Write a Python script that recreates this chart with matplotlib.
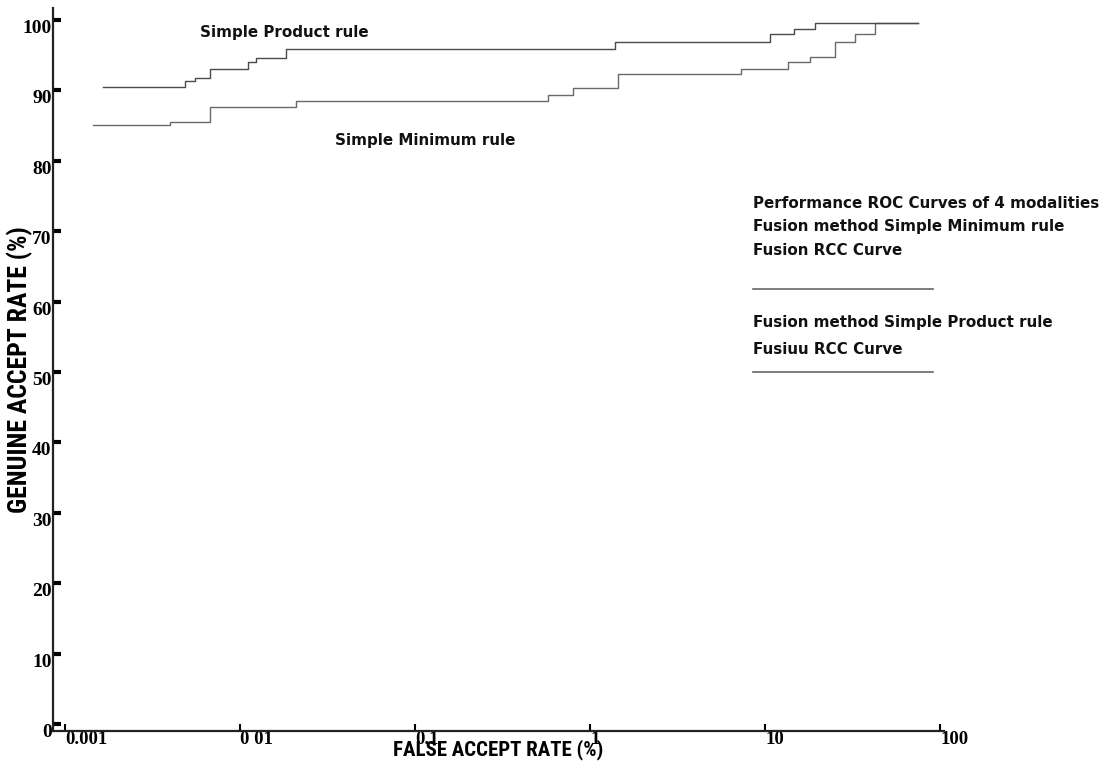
import matplotlib
matplotlib.use("Agg")
from matplotlib import pyplot as plt
from matplotlib.lines import Line2D

# ROC data (FAR in %, GAR in %)
product_far = [0.00165, 0.00485, 0.00553, 0.00674, 0.0111, 0.0123, 0.0183, 1.39, 10.7, 14.5, 19.3, 74.8]
product_gar = [90.5, 91.3, 91.8, 93.0, 94.1, 94.6, 95.9, 96.8, 98.0, 98.7, 99.6, 99.6]

minimum_far = [0.00144, 0.00398, 0.00674, 0.0209, 0.575, 0.80, 1.445, 7.29, 13.5, 18.1, 25.1, 32.7, 42.5, 74.8]
minimum_gar = [85.1, 85.5, 87.6, 88.5, 89.4, 90.4, 92.3, 93.1, 94.1, 94.8, 96.8, 98.0, 99.6, 99.6]

x_ticks = [0.001, 0.01, 0.1, 1, 10, 100]
x_ticklabels = ["0.001", "0 01", "0.1", "1", "10", "100"]
y_ticks = [0, 10, 20, 30, 40, 50, 60, 70, 80, 90, 100]

legend_lines = [
    "Performance ROC Curves of 4 modalities",
    "Fusion method Simple Minimum rule",
    "Fusion RCC Curve",
    "Fusion method Simple Product rule",
    "Fusiuu RCC Curve",
]

W, H = 1113, 762
fig = plt.figure(figsize=(W / 100, H / 100), dpi=100)


def fx(px):
    return px / W


def fy(py):
    return 1 - py / H


ax = fig.add_axes([fx(53), fy(731), fx(944) - fx(53), fy(8) - fy(731)])
ax.set_xscale("log")
ax.set_xlim(0.00085, 105)
ax.set_ylim(-1.0, 101.7)

ax.plot(minimum_far, minimum_gar, drawstyle="steps-post", color="#6a6a6a", lw=1.0)
ax.plot(product_far, product_gar, drawstyle="steps-post", color="#4a4a4a", lw=1.0)

for s in ["top", "right"]:
    ax.spines[s].set_visible(False)
for s in ["left", "bottom"]:
    ax.spines[s].set_linewidth(1.6)
    ax.spines[s].set_color("#222222")

ax.set_xticks(x_ticks)
ax.set_xticklabels(x_ticklabels, family="Liberation Serif", fontsize=13.5, fontweight="bold", ha="left")
ax.xaxis.set_minor_locator(matplotlib.ticker.NullLocator())
ax.tick_params(axis="x", direction="in", length=5, width=1.5, pad=0)

ax.set_yticks(y_ticks)
ax.set_yticklabels([str(v) for v in y_ticks], family="Liberation Serif", fontsize=14, fontweight="bold", va="top")
ax.tick_params(axis="y", direction="in", length=6, width=3, pad=1)

cond = dict(family=["Liberation Sans Narrow", "Roboto Condensed", "DejaVu Sans"],
            fontstretch="condensed", fontweight="bold")
ax.set_xlabel("FALSE ACCEPT RATE (%)", fontsize=15, labelpad=-6, **cond)
ax.set_ylabel("GENUINE ACCEPT RATE (%)", fontsize=18.5, labelpad=-8, **cond)

ann = dict(family="DejaVu Sans", fontsize=10.9, fontweight="bold", color="#111111", va="center")
fig.text(fx(200), fy(32), "Simple Product rule", ha="left", **ann)
fig.text(fx(335), fy(140), "Simple Minimum rule", ha="left", **ann)

legend_y = [203, 227, 251, 322, 349]
for txt, yy in zip(legend_lines, legend_y):
    fig.text(fx(753), fy(yy), txt, ha="left", **ann)
for yy in [289, 372]:
    fig.add_artist(Line2D([fx(753), fx(933)], [fy(yy), fy(yy)], color="#666666", lw=1.2))

fig.savefig("out.png", dpi=100)
